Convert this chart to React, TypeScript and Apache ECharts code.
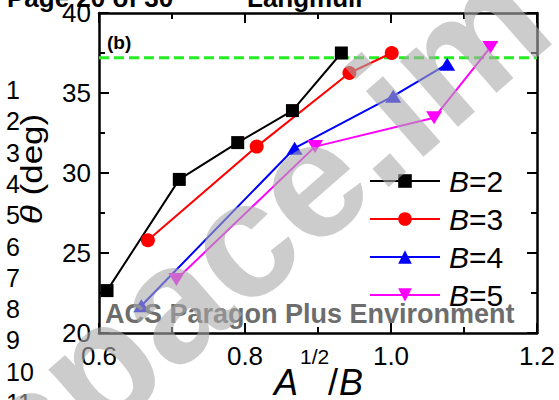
import React, { useEffect, useRef } from "react";
import * as echarts from "echarts";

// ---- data ----
const seriesNames = ["B=2", "B=3", "B=4", "B=5"];
const b2X = [0.611, 0.71, 0.79, 0.865, 0.932];
const b2Y = [22.65, 29.6, 31.9, 33.9, 37.5];
const b3X = [0.667, 0.816, 0.943, 1.001];
const b3Y = [25.8, 31.65, 36.25, 37.5];
const b4X = [0.658, 0.868, 1.003, 1.077];
const b4Y = [21.7, 31.55, 34.8, 36.8];
const b5X = [0.706, 0.896, 1.059, 1.136];
const b5Y = [23.35, 31.65, 33.45, 37.85];
const refY = 37.2;
const xRange = [0.6, 1.2];
const yRange = [20, 40];
const lineNumbers = ["1", "2", "3", "4", "5", "6", "7", "8", "9", "10", "11"];

const FONT = '"Liberation Sans", Arial, sans-serif';
const downTri = "path://M0,0 L10,0 L5,8 Z";

function pairs(xs: number[], ys: number[]) {
  return xs.map((x, i) => [x, ys[i]]);
}

export default function App() {
  const ref = useRef<HTMLDivElement>(null);
  useEffect(() => {
    if (!ref.current) return;
    const chart = echarts.init(ref.current, undefined, { renderer: "svg" });
    const axisLine = { show: true, lineStyle: { color: "#000", width: 2.5 } };
    const tick = { show: true, inside: true, length: 10, lineStyle: { color: "#000", width: 2 } };
    const minor = { show: true, splitNumber: 2, length: 6, lineStyle: { color: "#000", width: 2 } };
    const label = { color: "#000", fontSize: 26, fontFamily: FONT };
    const mk = (name: string, xs: number[], ys: number[], color: string, symbol: string, size: any) => ({
      type: "line",
      name,
      data: pairs(xs, ys),
      symbol,
      symbolSize: size,
      showAllSymbol: true,
      lineStyle: { color, width: 2 },
      itemStyle: { color },
      z: 3,
    });
    const option: any = {
      animation: false,
      backgroundColor: "#fff",
      grid: { left: 99, right: 22, top: 8, bottom: 67, containLabel: false },
      xAxis: [
        {
          type: "value", min: xRange[0], max: xRange[1], interval: 0.2, position: "bottom",
          axisLine, axisTick: tick, minorTick: minor, splitLine: { show: false },
          axisLabel: { ...label, margin: 10, formatter: (v: number) => v.toFixed(1) },
        },
        {
          type: "value", min: xRange[0], max: xRange[1], interval: 0.2, position: "top",
          axisLine, axisTick: tick, minorTick: minor, splitLine: { show: false },
          axisLabel: { show: false },
        },
      ],
      yAxis: [
        {
          type: "value", min: yRange[0], max: yRange[1], interval: 5, position: "left",
          axisLine, axisTick: tick, minorTick: minor, splitLine: { show: false },
          axisLabel: { ...label, margin: 8 },
        },
        {
          type: "value", min: yRange[0], max: yRange[1], interval: 5, position: "right",
          axisLine, axisTick: tick, minorTick: minor, splitLine: { show: false },
          axisLabel: { show: false },
        },
      ],
      legend: {
        data: seriesNames,
        orient: "vertical",
        left: 369,
        top: 166,
        itemWidth: 70,
        itemHeight: 17,
        itemGap: 8,
        padding: 0,
        textStyle: {
          color: "#000", fontSize: 30, fontFamily: FONT, lineHeight: 30, padding: [0, 0, 0, 4],
          rich: { i: { fontStyle: "italic", fontSize: 30, fontFamily: FONT, lineHeight: 30, color: "#000" } },
        },
        formatter: (n: string) => `{i|B}=${n.slice(2)}`,
      },
      series: [
        {
          type: "line", name: "ref", data: [[xRange[0], refY], [xRange[1], refY]], symbol: "none",
          lineStyle: { color: "#22ee22", width: 3, type: [10, 5] }, z: 2, silent: true,
        },
        mk(seriesNames[0], b2X, b2Y, "#000000", "rect", 13),
        mk(seriesNames[1], b3X, b3Y, "#ff0000", "circle", 14),
        mk(seriesNames[2], b4X, b4Y, "#0000ff", "triangle", [16, 13]),
        mk(seriesNames[3], b5X, b5Y, "#ff00ff", downTri, [16, 13]),
      ],
      graphic: [
        {
          type: "text", x: 7, y: -2, z: 50,
          style: { text: "Page 20 of 30", fill: "#000", fontSize: 26, fontWeight: "bold", fontFamily: FONT, align: "left", verticalAlign: "middle" },
        },
        {
          type: "text", x: 247, y: -2, z: 50,
          style: { text: "Langmuir", fill: "#000", fontSize: 26, fontWeight: "bold", fontFamily: FONT, align: "left", verticalAlign: "middle" },
        },
        ...lineNumbers.map((t, i) => ({
          type: "text", x: 6, y: 90 + 31.3 * i, z: 50,
          style: { text: t, fill: "#000", fontSize: 25, fontFamily: FONT, align: "left", verticalAlign: "middle" },
        })),
        {
          type: "text", x: 107, y: 42, z: 50,
          style: { text: "(b)", fill: "#000", fontSize: 19, fontWeight: "bold", fontFamily: FONT, align: "left", verticalAlign: "middle" },
        },
        {
          type: "text", x: 32, y: 169, rotation: Math.PI / 2, scaleY: 0.82, z: 50,
          style: {
            text: "{i|θ} (deg)", fill: "#000", fontSize: 35, fontFamily: FONT, align: "center", verticalAlign: "middle",
            rich: { i: { fontStyle: "italic", fontSize: 35, fontFamily: FONT, fill: "#000" } },
          },
        },
        {
          type: "text", x: 274, y: 382, z: 50,
          style: { text: "A", fill: "#000", fontSize: 36, fontStyle: "italic", fontFamily: FONT, align: "left", verticalAlign: "middle" },
        },
        {
          type: "text", x: 300, y: 356, z: 50,
          style: { text: "1/2", fill: "#000", fontSize: 21, fontFamily: FONT, align: "left", verticalAlign: "middle" },
        },
        {
          type: "text", x: 328, y: 382, z: 50,
          style: { text: "/", fill: "#000", fontSize: 36, fontFamily: FONT, align: "left", verticalAlign: "middle" },
        },
        {
          type: "text", x: 339, y: 382, z: 50,
          style: { text: "B", fill: "#000", fontSize: 36, fontStyle: "italic", fontFamily: FONT, align: "left", verticalAlign: "middle" },
        },
        {
          type: "text", x: 105, y: 314, z: 60,
          style: { text: "ACS Paragon Plus Environment", fill: "#6d6d6d", fontSize: 27, fontWeight: "bold", fontFamily: FONT, align: "left", verticalAlign: "middle" },
        },
        {
          type: "text", x: -9, y: 460, rotation: 0.72, z: 100, silent: true,
          style: { text: "space.im", fill: "rgba(170,170,170,0.6)", fontSize: 165, fontWeight: "bold", fontFamily: FONT, align: "left", verticalAlign: "middle" },
        },
      ],
    };
    chart.setOption(option);
    return () => chart.dispose();
  }, []);
  return <div ref={ref} style={{ width: 559, height: 400, position: "absolute", left: 0, top: 0 }} />;
}
